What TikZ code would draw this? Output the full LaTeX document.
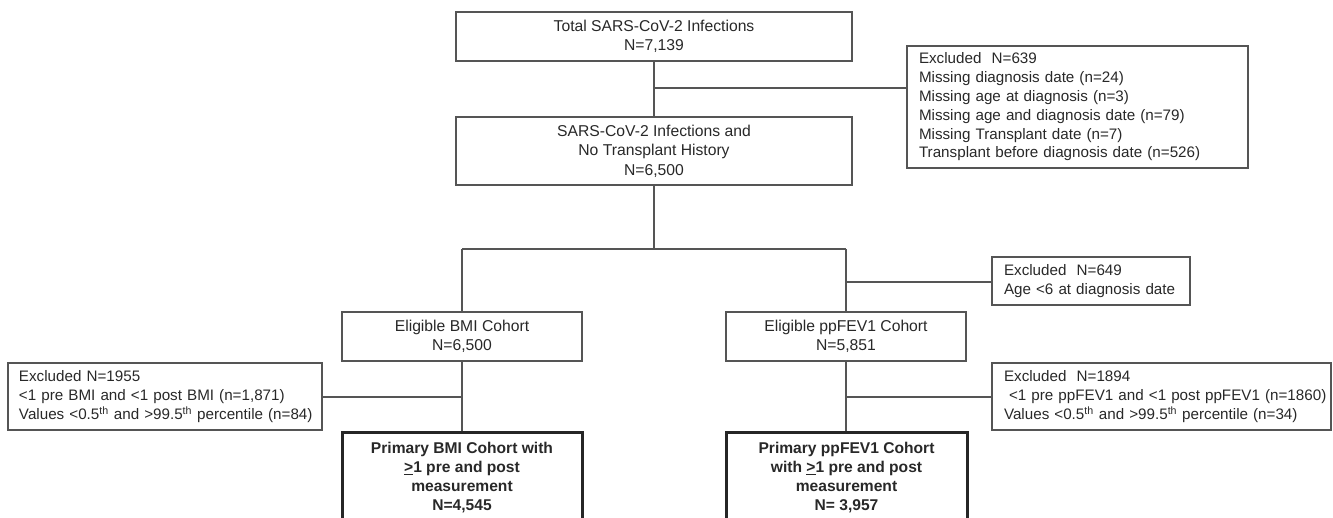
\documentclass[tikz,border=0pt]{standalone}
\usepackage{fontspec}
\setmainfont{Liberation Sans}
\definecolor{ln}{RGB}{85,85,85}
\definecolor{txt}{RGB}{40,40,40}
\begin{document}
\begin{tikzpicture}[x=1pt,y=-1pt,
  every node/.style={font=\fontsize{15.7}{19.5}\selectfont, text=txt},
  box/.style={draw=ln, line width=1.1pt, inner sep=0pt, align=center},
  exbox/.style={box, align=left, inner xsep=12pt, inner ysep=0pt,
    font=\fontsize{15.2}{18.8}\selectfont},
  primbox/.style={draw=black!85, line width=3pt, inner sep=0pt, align=center,
    font=\fontsize{15.6}{19}\selectfont\bfseries},
  conn/.style={draw=ln, line width=1.1pt}]
\useasboundingbox (0,0) rectangle (1333,517);
\clip (0,0) rectangle (1333,517);

% main column
\node[box, minimum width=396pt, minimum height=49pt] (top) at (654,36.5)
  {Total SARS-CoV-2 Infections\\N=7,139};
\node[box, minimum width=396pt, minimum height=68pt] (nt) at (654,151)
  {SARS-CoV-2 Infections and\\No Transplant History\\N=6,500};
\node[exbox, text width=317pt, minimum height=122pt] (ex1) at (1077.5,107)
  {\mbox{Excluded\ \ N=639}\\\mbox{Missing diagnosis date (n=24)}\\\mbox{Missing age at diagnosis (n=3)}\\\mbox{Missing age and diagnosis date (n=79)}\\\mbox{Missing Transplant date (n=7)}\\\mbox{Transplant before diagnosis date (n=526)}};

% cohorts
\node[box, minimum width=240pt, minimum height=49pt] (ebmi) at (462,336.5)
  {Eligible BMI Cohort\\N=6,500};
\node[box, minimum width=240pt, minimum height=49pt] (efev) at (846,336.5)
  {Eligible ppFEV1 Cohort\\N=5,851};
\node[exbox, text width=174pt, minimum height=48pt] (ex649) at (1091,281)
  {\mbox{Excluded\ \ N=649}\\\mbox{Age {<}6 at diagnosis date}};
\node[exbox, text width=292pt, inner xsep=11pt, minimum height=67pt] (exbmi) at (165,396.5)
  {\mbox{Excluded N=1955}\\\mbox{{<}1 pre BMI and {<}1 post BMI (n=1,871)}\\\mbox{Values {<}0.5\textsuperscript{th} and {>}99.5\textsuperscript{th} percentile (n=84)}};
\node[exbox, text width=315pt, minimum height=67pt] (exfev) at (1161.5,396.5)
  {\mbox{Excluded\ \ N=1894}\\\mbox{\ {<}1 pre ppFEV1 and {<}1 post ppFEV1 (n=1860)}\\\mbox{Values {<}0.5\textsuperscript{th} and {>}99.5\textsuperscript{th} percentile (n=34)}};

\node[primbox, minimum width=240pt, minimum height=92pt] (pbmi) at (462,478)
  {Primary BMI Cohort with\\\underline{>}1 pre and post\\measurement\\N=4,545};
\node[primbox, minimum width=241pt, minimum height=92pt] (pfev) at (846.5,478)
  {Primary ppFEV1 Cohort\\with \underline{>}1 pre and post\\measurement\\N= 3,957};

% connectors
\coordinate (b1) at (654,88);
\coordinate (split) at (654,249);
\coordinate (sl) at (462,249);
\coordinate (sr) at (846,249);
\coordinate (b2) at (846,282);
\coordinate (b3) at (462,397);
\coordinate (b4) at (846,397);
\draw[conn] (top) -- (nt);
\draw[conn] (b1) -- (b1 -| ex1.west);
\draw[conn] (nt) -- (split);
\draw[conn] (sl) -- (sr);
\draw[conn] (sl) -- (ebmi);
\draw[conn] (sr) -- (efev);
\draw[conn] (b2) -- (b2 -| ex649.west);
\draw[conn] (ebmi) -- (pbmi);
\draw[conn] (b3) -- (b3 -| exbmi.east);
\draw[conn] (efev.south) -- (pfev.north -| efev.south);
\draw[conn] (b4) -- (b4 -| exfev.west);
\end{tikzpicture}
\end{document}
